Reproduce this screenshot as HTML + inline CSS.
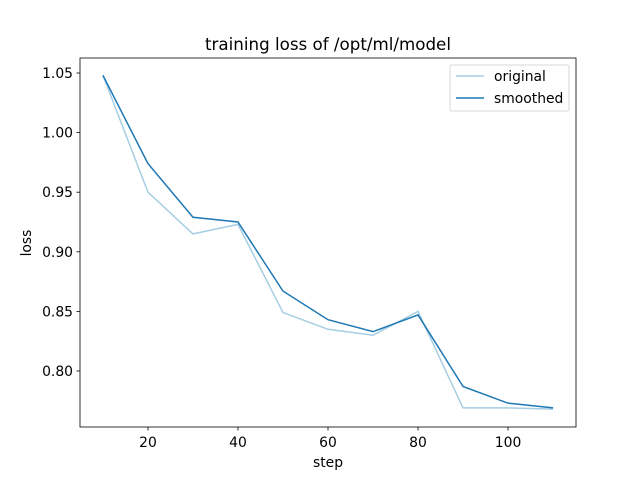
<!DOCTYPE html>
<html><head><meta charset="utf-8"><style>
body{margin:0;background:#fff}
svg text{font-family:"DejaVu Sans","Liberation Sans",sans-serif;fill:#000}
</style></head><body>
<svg id="chart" width="640" height="480">
<rect x="0" y="0" width="640" height="480" fill="#fff"/>
<text x="328" y="50" font-size="16.7" text-anchor="middle">training loss of /opt/ml/model</text>
<g id="marks"></g>
<g id="axes"></g>
<rect x="80" y="58" width="496" height="369" fill="none" stroke="#000" stroke-width="0.8"/>
<text x="328" y="467" font-size="13.9" text-anchor="middle">step</text>
<text x="31" y="243" font-size="13.9" text-anchor="middle" transform="rotate(-90 31 243)">loss</text>
<g>
<rect x="450" y="65" width="119" height="46" rx="2" fill="#fff" stroke="#ccc" stroke-width="0.8"/>
<line x1="456" y1="76" x2="484" y2="76" stroke="#a6cee3" stroke-width="1.5"/>
<text x="494" y="81" font-size="13.9">original</text>
<line x1="456" y1="98" x2="484" y2="98" stroke="#1f78b4" stroke-width="1.5"/>
<text x="494" y="103" font-size="13.9">smoothed</text>
</g>
</svg>
<script>
const steps=[10,20,30,40,50,60,70,80,90,100,110];
const original=[1.048,0.950,0.915,0.923,0.849,0.835,0.830,0.850,0.769,0.769,0.768];
const smoothed=[1.048,0.974,0.929,0.925,0.867,0.843,0.833,0.847,0.787,0.773,0.769];
const xTicks=[20,40,60,80,100];
const yTicks=[0.80,0.85,0.90,0.95,1.00,1.05];
const NS="http://www.w3.org/2000/svg";
function sx(v){return 80+(v-4.9)/(115.1-4.9)*496;}
function sy(v){return 427-(v-0.753)/(1.0626-0.753)*369;}
const marks=document.getElementById('marks'),axes=document.getElementById('axes');
function line(data,color,name){
  const p=document.createElementNS(NS,'polyline');
  p.setAttribute('points',steps.map((s,i)=>sx(s)+','+sy(data[i])).join(' '));
  p.setAttribute('fill','none');p.setAttribute('stroke',color);p.setAttribute('stroke-width','1.5');
  
  
  marks.appendChild(p);
}
line(original,'#a6cee3','original-line');
line(smoothed,'#1f78b4','smoothed-line');
xTicks.forEach(t=>{
  const l=document.createElementNS(NS,'line');
  l.setAttribute('x1',sx(t));l.setAttribute('x2',sx(t));l.setAttribute('y1',427);l.setAttribute('y2',430.5);
  l.setAttribute('stroke','#000');l.setAttribute('stroke-width','0.8');
  
  
  axes.appendChild(l);
  const tx=document.createElementNS(NS,'text');
  tx.setAttribute('x',sx(t));tx.setAttribute('y',447);tx.setAttribute('font-size','13.9');tx.setAttribute('text-anchor','middle');
  tx.textContent=t;
  
  
  axes.appendChild(tx);
});
yTicks.forEach(t=>{
  const l=document.createElementNS(NS,'line');
  l.setAttribute('x1',76.5);l.setAttribute('x2',80);l.setAttribute('y1',sy(t));l.setAttribute('y2',sy(t));
  l.setAttribute('stroke','#000');l.setAttribute('stroke-width','0.8');
  
  
  axes.appendChild(l);
  const tx=document.createElementNS(NS,'text');
  tx.setAttribute('x',73);tx.setAttribute('y',sy(t)+5);tx.setAttribute('font-size','13.9');tx.setAttribute('text-anchor','end');
  tx.textContent=t.toFixed(2);
  
  
  axes.appendChild(tx);
});
</script>
</body></html>
